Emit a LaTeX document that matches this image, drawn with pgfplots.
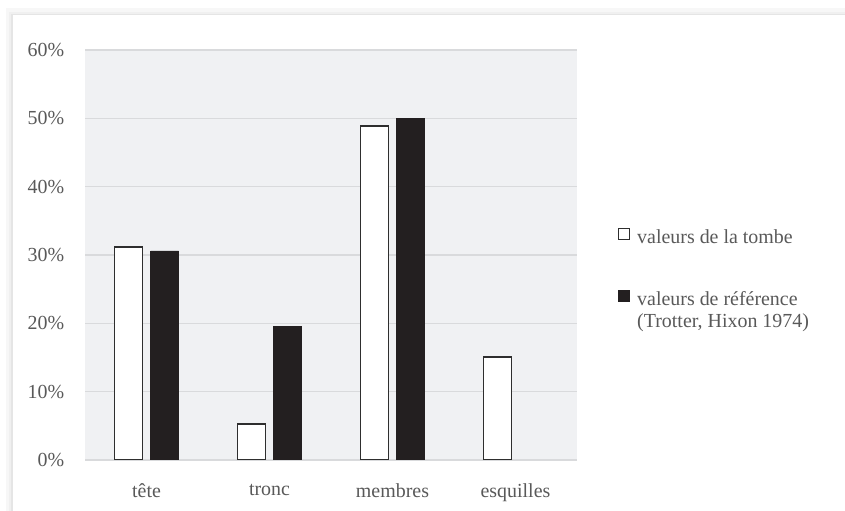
\documentclass[border=0pt]{standalone}
\usepackage{pgfplots}
\pgfplotsset{compat=1.18}
\usepackage{fontspec}
\setmainfont{Liberation Serif}
\definecolor{txt}{HTML}{595959}
\definecolor{bgc}{HTML}{F0F1F3}
\definecolor{gridc}{HTML}{D9DADC}
\definecolor{barblack}{HTML}{231F20}
\definecolor{baredge}{HTML}{2E2E2E}
\begin{document}
\fontsize{20}{23}\selectfont
\begin{tikzpicture}
\useasboundingbox (0bp,0bp) rectangle (845bp,511bp);
\fill[white] (0bp,0bp) rectangle (845bp,511bp);
\fill[black!3] (6bp,0bp) rectangle (845bp,503bp);
\fill[black!6] (9bp,0bp) rectangle (845bp,499bp);
\fill[black!10] (11bp,0bp) rectangle (845bp,497bp);
\fill[white] (12.5bp,0bp) rectangle (845bp,495.5bp);
\begin{axis}[
  at={(85bp,51bp)}, anchor=south west,
  scale only axis, width=492bp, height=410bp,
  xmin=-0.5, xmax=3.5, ymin=0, ymax=60,
  ybar, bar width=28bp,
  xtick={0,1,2,3},
  xticklabels={tête,tronc,membres,esquilles},
  ytick={0,10,...,60},
  yticklabel={\pgfmathprintnumber[assume math mode=true]{\tick}\%},
  ymajorgrids, major grid style={draw=gridc, line width=1.3bp},
  axis line style={draw=none},
  major tick length=0pt,
  axis background/.style={fill=bgc},
  tick label style={text=txt, font=\fontsize{20}{23}\selectfont},
  yticklabel style={xshift=-14bp},
  xticklabel style={yshift=-17bp},
  legend style={draw=none, fill=none, at={(1.083,0.567)}, anchor=north west,
    text=txt, font=\fontsize{20}{23}\selectfont, row sep=44bp, column sep=7bp,
    inner sep=0pt, nodes={inner sep=0pt},
    cells={anchor=base west}},
  legend cell align=left,
  legend image code/.code={\draw[#1, line width=1.2bp] (0bp,-1.5bp) rectangle (11bp,9.5bp);},
]
\addplot[fill=white, draw=baredge, line width=1.6bp, bar shift=-18bp]
  coordinates {(0,31.2) (1,5.3) (2,48.9) (3,15.1)};
\addplot[fill=barblack, draw=barblack, line width=0.8bp, bar shift=18bp]
  coordinates {(0,30.6) (1,19.6) (2,50.0)};
\legend{valeurs de la tombe, {\parbox[t]{220bp}{\fontsize{20}{22}\selectfont\raggedright valeurs de référence\\(Trotter, Hixon 1974)}}}
\end{axis}
\end{tikzpicture}
\end{document}
